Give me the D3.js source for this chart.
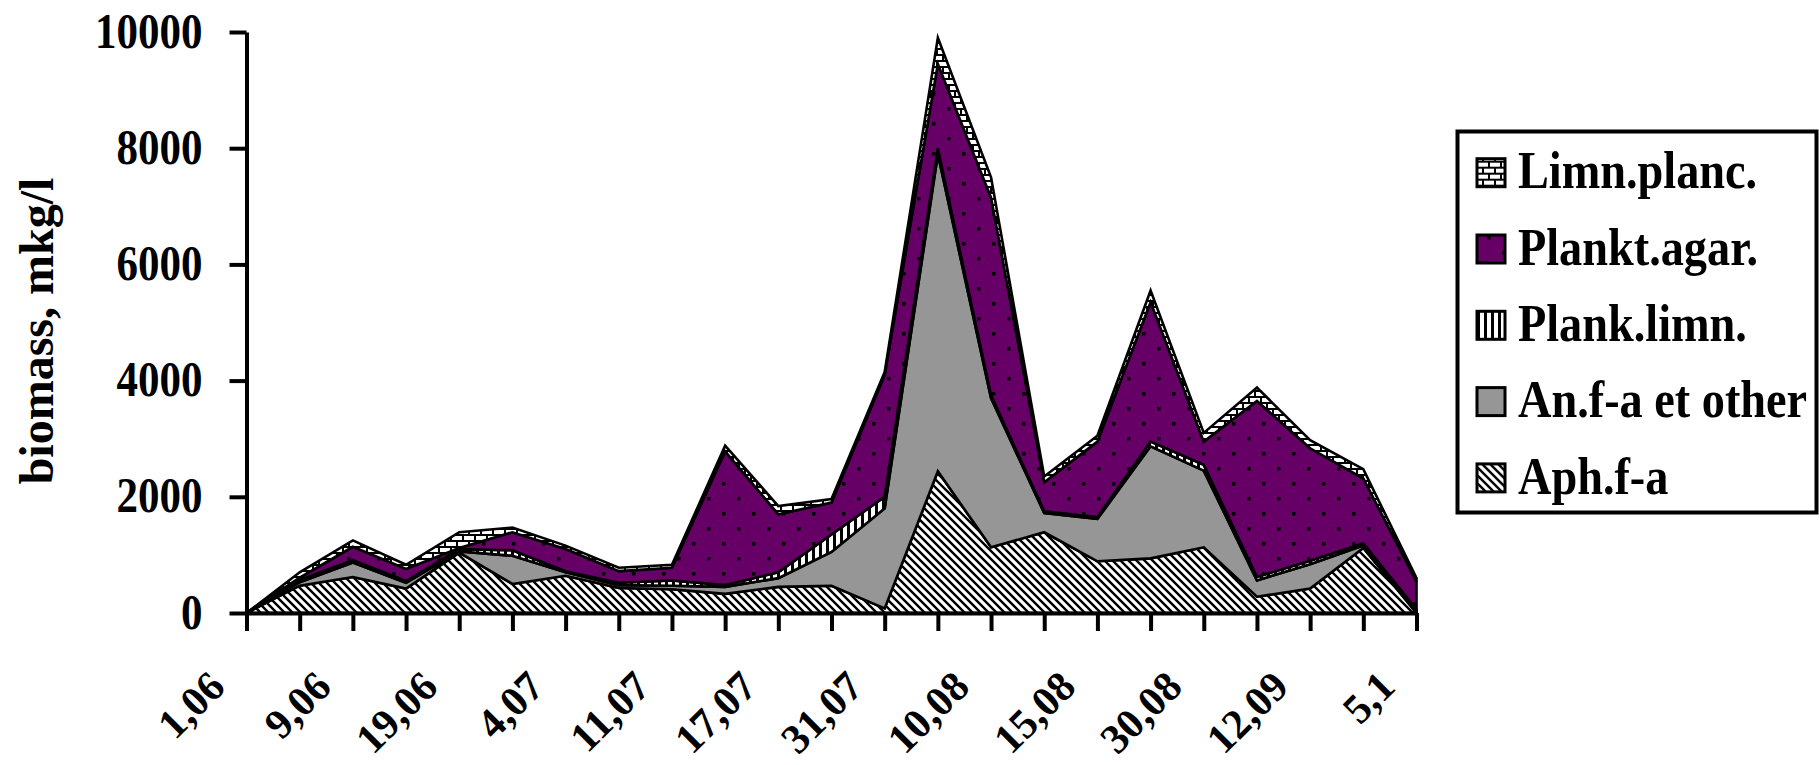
<!DOCTYPE html>
<html><head><meta charset="utf-8">
<script src="https://cdn.jsdelivr.net/npm/d3@7/dist/d3.min.js"></script>
<style>body{margin:0;background:#fff} svg{display:block}</style>
</head><body>
<svg id="c" width="1819" height="765"></svg>
<script>
// x-axis labels, shown at every second sample
const dateLabels = ["1,06","9,06","19,06","4,07","11,07","17,07","31,07","10,08","15,08","30,08","12,09","5,1"];
// sample numbers (23 sampling dates)
const samples = [0,1,2,3,4,5,6,7,8,9,10,11,12,13,14,15,16,17,18,19,20,21,22];
const seriesNames = ["Aph.f-a","An.f-a et other","Plank.limn.","Plankt.agar.","Limn.planc."];
const aphFa     = [0,470,620,420,1040,500,640,430,410,330,450,470,80,2440,1130,1390,890,940,1130,280,420,1120,0];
const anFaOther = [0,60,250,100,20,485,60,50,60,120,150,580,1720,5460,2570,330,730,1930,1320,280,420,40,30];
const plankLimn = [0,40,40,30,40,95,20,40,90,30,100,300,200,100,50,30,30,80,100,60,60,40,30];
const planktAgar= [0,40,230,210,20,310,380,200,220,2300,1000,550,2100,1450,3400,500,1300,2400,400,3030,1935,1115,480];
const limnPlanc = [0,90,110,70,270,80,60,60,50,100,140,60,50,450,350,100,100,200,150,230,140,160,60];
const yTicks = [0,2000,4000,6000,8000,10000];

const seriesValues = [aphFa, anFaOther, plankLimn, planktAgar, limnPlanc];
const rows = samples.map((s, i) => {
  const r = {s};
  seriesNames.forEach((n, k) => r[n] = seriesValues[k][i]);
  return r;
});

const svg = d3.select("#c");
const defs = svg.append("defs");
const FONT = "'Liberation Serif','Times New Roman',serif";

// patterns
function pat(id, w, h) {
  return defs.append("pattern").attr("id", id).attr("patternUnits", "userSpaceOnUse")
    .attr("width", w).attr("height", h);
}
const pH = pat("pHatch", 8, 8);
pH.append("rect").attr("width", 8).attr("height", 8).attr("fill", "#fff");
pH.append("path").attr("d", "M0,0L8,8M-2,6L2,10M6,-2L10,2").attr("stroke", "#000").attr("stroke-width", 2.4);

const pG = pat("pGray", 8, 8);
pG.append("rect").attr("width", 8).attr("height", 8).attr("fill", "#969696");

const pV = pat("pVert", 7, 7);
pV.append("rect").attr("width", 7).attr("height", 7).attr("fill", "#fff");
pV.append("rect").attr("width", 3).attr("height", 7).attr("fill", "#000");

const pD = pat("pDots", 30, 30);
pD.append("rect").attr("width", 30).attr("height", 30).attr("fill", "#660066");
pD.append("rect").attr("x", 2).attr("y", 2).attr("width", 3.5).attr("height", 3.5).attr("fill", "#000");
pD.append("rect").attr("x", 17).attr("y", 17).attr("width", 3.5).attr("height", 3.5).attr("fill", "#000");

const pB = pat("pBrick", 12, 12);
pB.append("rect").attr("width", 12).attr("height", 12).attr("fill", "#fff");
pB.append("path").attr("d", "M0,1H12M0,7H12M1,1V7M7,7V13").attr("stroke", "#000").attr("stroke-width", 2);

const fills = ["url(#pHatch)", "url(#pGray)", "url(#pVert)", "url(#pDots)", "url(#pBrick)"];

// scales
const x = d3.scalePoint().domain(samples).range([246.5, 1416.5]);
const y = d3.scaleLinear().domain([0, 10000]).range([613, 32]);

const stack = d3.stack().keys(seriesNames);
const layers = stack(rows);
const area = d3.area()
  .x(d => x(d.data.s))
  .y0(d => y(d[0]))
  .y1(d => y(d[1]));

svg.append("g").selectAll("path").data(layers).join("path")
  .attr("d", area)
  .attr("fill", (d, i) => fills[i])
  .attr("stroke", "#000")
  .attr("stroke-width", 2.6)
  .attr("stroke-linejoin", "miter");

// y axis
const yAxis = svg.append("g").attr("transform", "translate(246.5,0)")
  .call(d3.axisLeft(y).tickValues(yTicks).tickSize(17).tickSizeOuter(0).tickFormat(d3.format("d")));
// x axis
const xAxis = svg.append("g").attr("transform", "translate(0,613)")
  .call(d3.axisBottom(x).tickSize(18).tickSizeOuter(0)
    .tickFormat(s => (s % 2 === 0 ? dateLabels[s / 2] : "")));

[yAxis, xAxis].forEach(a => {
  a.select(".domain").attr("stroke", "#000").attr("stroke-width", 4);
  a.selectAll(".tick line").attr("stroke", "#000").attr("stroke-width", 4);
  a.selectAll("text").attr("fill", "#000").style("font-family", FONT).style("font-weight", "bold");
});
yAxis.selectAll(".tick text")
  .attr("x", 0).attr("dy", "0.3em")
  .attr("transform", "translate(-44,0) scale(0.86,1)")
  .style("font-size", "50px").style("text-anchor", "end");
xAxis.selectAll(".tick text")
  .attr("x", 0).attr("y", 0).attr("dy", 0)
  .attr("transform", "translate(-20,76) rotate(-45)")
  .style("font-size", "42px").style("text-anchor", "end");

// y title
svg.append("text")
  .attr("transform", "translate(53,331) rotate(-90)")
  .attr("text-anchor", "middle")
  .style("font-family", FONT).style("font-weight", "bold").style("font-size", "48px")
  .text("biomass, mkg/l");

// legend
const lg = svg.append("g");
lg.append("rect").attr("x", 1457.5).attr("y", 131.5).attr("width", 359).attr("height", 381)
  .attr("fill", "#fff").attr("stroke", "#000").attr("stroke-width", 4);
const legendOrder = [4, 3, 2, 1, 0];
const items = lg.selectAll("g.item").data(legendOrder).join("g")
  .attr("class", "item")
  .attr("transform", (k, j) => `translate(0,${172.7 + j * 76.3})`);
items.append("rect").attr("x", 1477).attr("y", -14).attr("width", 28).attr("height", 28)
  .attr("fill", k => fills[k]).attr("stroke", "#000").attr("stroke-width", 3);
items.append("text")
  .attr("transform", "translate(1518,15.6) scale(0.89,1)")
  .style("font-family", FONT).style("font-weight", "bold").style("font-size", "52px")
  .text(k => seriesNames[k]);
</script>
</body></html>
